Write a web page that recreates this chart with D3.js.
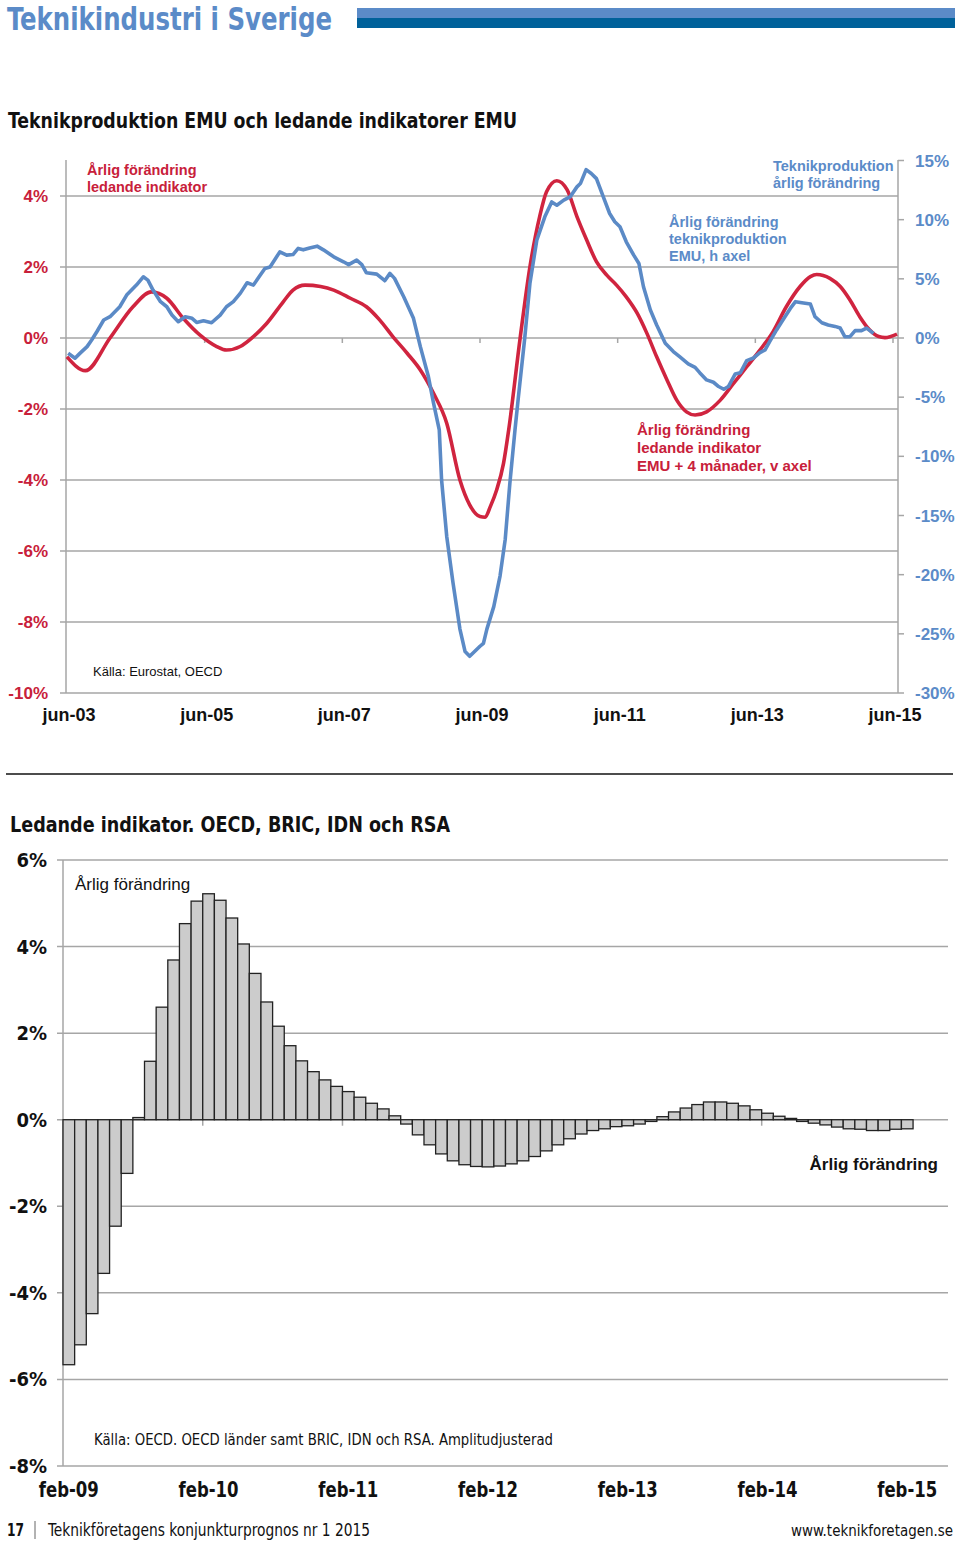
<!DOCTYPE html>
<html><head><meta charset="utf-8">
<script src="https://cdn.jsdelivr.net/npm/d3@7"></script>
<style>
body{margin:0;background:#fff;}
svg{display:block;}
.cond{font-family:"Liberation Sans Narrow","Arial Narrow","DejaVu Sans Condensed",sans-serif;}
.arial{font-family:"Liberation Sans",Arial,sans-serif;}
</style></head>
<body>
<svg id="c" width="960" height="1541"></svg>
<script>
// ---------- Chart 1 data (month offsets from jun-03) ----------
const redMonths = [0,3.2,7.5,11.5,14.7,17.4,20.3,23.2,26.1,27.8,30.2,32.5,34.8,37.7,39.4,41.5,44.2,46.5,49.4,52.2,54.5,56.8,59.3,61.6,63.9,66.2,68.5,70.2,72.0,72.9,73.8,74.9,76.1,77.0,79.0,80.7,82.4,83.6,85.4,87.2,88.9,90.6,92.3,94.1,95.8,97.5,99.4,101.1,102.8,104.6,106.3,108.0,109.5,111.5,113.9,116.2,118.5,120.8,123.1,125.4,127.8,129.6,130.7,133.0,134.8,136.5,138.2,139.9,141.5,142.6,144.7];
const redValues = [-0.53,-0.92,0.0,0.88,1.30,1.12,0.55,0.08,-0.24,-0.34,-0.24,0.04,0.41,1.02,1.35,1.49,1.45,1.35,1.12,0.88,0.51,0.04,-0.43,-0.90,-1.56,-2.40,-4.0,-4.70,-5.03,-5.05,-4.75,-4.28,-3.53,-2.59,0.0,2.0,3.42,4.12,4.43,4.17,3.42,2.76,2.15,1.77,1.49,1.16,0.70,0.13,-0.53,-1.18,-1.75,-2.08,-2.17,-2.08,-1.75,-1.28,-0.81,-0.34,0.18,0.88,1.45,1.73,1.79,1.68,1.45,1.07,0.60,0.23,0.04,0.01,0.11];
const blueMonths = [0.2,1.4,2.2,3.5,4.3,5.2,6.4,7.5,9.2,10.4,12.1,13.3,14.1,15.0,16.3,17.4,18.3,19.4,20.6,21.8,22.6,23.8,25.2,26.7,27.8,29.0,30.2,31.4,32.5,33.7,34.5,35.4,37.1,38.3,39.4,40.3,41.2,42.3,43.6,44.7,46.5,48.2,49.1,50.5,51.4,52.2,54.0,55.4,56.3,57.1,58.7,60.4,61.6,63.0,63.9,64.9,65.3,66.2,67.3,68.5,69.4,70.2,72.0,72.6,73.2,74.4,75.5,76.4,77.2,78.1,78.7,79.8,80.7,81.9,83.3,84.5,85.4,86.6,87.7,88.9,89.5,90.5,91.4,92.3,93.5,94.6,95.5,96.4,97.5,98.8,99.7,100.5,101.7,102.8,104.3,105.7,106.8,108.3,109.5,110.3,111.5,112.7,113.6,114.5,115.3,116.5,117.4,118.5,119.7,120.8,121.7,122.5,123.7,124.8,126.1,127.0,128.1,129.6,130.4,131.6,132.7,133.9,134.8,135.6,136.5,137.4,138.5,139.4,140.6];
const blueValues = [-1.29,-1.71,-1.32,-0.73,-0.17,0.53,1.52,1.80,2.64,3.63,4.47,5.17,4.89,4.05,3.07,2.64,1.94,1.38,1.80,1.66,1.32,1.46,1.29,1.94,2.64,3.07,3.77,4.67,4.47,5.32,5.88,6.0,7.28,7.0,7.05,7.57,7.45,7.60,7.76,7.45,6.86,6.44,6.20,6.58,6.20,5.51,5.40,4.84,5.46,5.04,3.49,1.66,-0.73,-3.26,-5.51,-7.76,-11.98,-16.77,-20.7,-24.6,-26.5,-26.9,-26.05,-25.8,-24.6,-22.7,-20.1,-17.0,-12.3,-7.76,-4.95,0.0,4.6,8.27,10.24,11.5,11.22,11.65,11.92,12.77,13.05,14.23,13.9,13.47,11.92,10.52,9.82,9.40,8.13,7.0,6.30,4.33,2.36,1.10,-0.45,-1.15,-1.58,-2.19,-2.48,-2.93,-3.54,-3.74,-4.10,-4.33,-4.10,-3.04,-2.93,-1.91,-1.69,-1.24,-1.01,-0.31,0.68,1.52,2.50,3.07,2.98,2.87,1.80,1.29,1.10,0.98,0.84,0.11,0.11,0.62,0.62,0.84,0.39];
const xTickMonths = [0,24,48,72,96,120,144];
const xTickLabels = ["jun-03","jun-05","jun-07","jun-09","jun-11","jun-13","jun-15"];
const leftTicks = [-10,-8,-6,-4,-2,0,2,4];
const rightTicks = [-30,-25,-20,-15,-10,-5,0,5,10,15];

// ---------- Chart 2 data ----------
const barValues = [-5.66,-5.2,-4.48,-3.55,-2.46,-1.24,0.05,1.35,2.6,3.69,4.53,5.05,5.22,5.07,4.66,4.06,3.38,2.72,2.16,1.71,1.36,1.11,0.92,0.77,0.65,0.52,0.38,0.25,0.09,-0.1,-0.35,-0.58,-0.79,-0.95,-1.04,-1.08,-1.09,-1.07,-1.02,-0.95,-0.85,-0.72,-0.58,-0.44,-0.33,-0.25,-0.21,-0.16,-0.14,-0.1,-0.04,0.07,0.18,0.27,0.35,0.41,0.41,0.38,0.32,0.23,0.15,0.08,0.03,-0.04,-0.08,-0.12,-0.17,-0.21,-0.22,-0.25,-0.25,-0.22,-0.21];
const monthNames = ["jan","feb","mar","apr","maj","jun","jul","aug","sep","okt","nov","dec"];
const barCategories = d3.range(76).map(i => { const m = (1 + i) % 12, y = 9 + Math.floor((1 + i) / 12); return monthNames[m] + "-" + String(y).padStart(2,"0"); });
const barTickLabels = ["feb-09","feb-10","feb-11","feb-12","feb-13","feb-14","feb-15"];
const barYTicks = [-8,-6,-4,-2,0,2,4,6];

const RED = "#d0243f", REDTXT = "#c8203a", BLUE = "#5b8ac6", BLUETXT = "#5b8bc8", GRID = "#a6a6a6";
const svg = d3.select("#c");

function fit(sel, len){ return sel.attr("textLength",len).attr("lengthAdjust","spacingAndGlyphs"); }

// ---------- Header ----------
fit(svg.append("text").attr("class","cond").attr("x",7).attr("y",30).attr("font-size",32).attr("font-weight","bold").attr("fill",BLUETXT).text("Teknikindustri i Sverige"),325);
svg.append("rect").attr("x",357).attr("y",8).attr("width",598).attr("height",10).attr("fill","#5b8bc8");
svg.append("rect").attr("x",357).attr("y",18).attr("width",598).attr("height",10).attr("fill","#00619a");

// ---------- Chart 1 ----------
fit(svg.append("text").attr("class","cond").attr("x",8).attr("y",128).attr("font-size",22).attr("font-weight","bold").attr("fill","#111").text("Teknikproduktion EMU och ledande indikatorer EMU"),509);

const x1 = d3.scaleLinear().domain([0,144]).range([67,893]);
const yL = d3.scaleLinear().domain([-10,5]).range([693,160.5]);
const yR = d3.scaleLinear().domain([-30,15]).range([693,160.5]);
const PL = 66, PR = 898;
const g1 = svg.append("g");

g1.selectAll("line.grid").data(leftTicks).join("line")
  .attr("x1",60).attr("x2",PR).attr("y1",d=>yL(d)).attr("y2",d=>yL(d))
  .attr("stroke",GRID).attr("stroke-width",1.5);
g1.append("line").attr("x1",PL).attr("x2",PL).attr("y1",160).attr("y2",693).attr("stroke",GRID).attr("stroke-width",1.5);
g1.append("line").attr("x1",PR).attr("x2",PR).attr("y1",160).attr("y2",693).attr("stroke",GRID).attr("stroke-width",1.5);
g1.selectAll("line.rt").data(rightTicks).join("line")
  .attr("x1",PR).attr("x2",PR+6).attr("y1",d=>yR(d)).attr("y2",d=>yR(d)).attr("stroke",GRID).attr("stroke-width",1.5);
g1.selectAll("line.xt").data(xTickMonths.slice(1)).join("line")
  .attr("x1",d=>x1(d)).attr("x2",d=>x1(d)).attr("y1",yL(0)).attr("y2",yL(0)+5).attr("stroke",GRID).attr("stroke-width",1.5);

g1.selectAll("text.lt").data(leftTicks).join("text").attr("class","arial")
  .attr("x",48).attr("y",d=>yL(d)+6).attr("text-anchor","end").attr("font-size",17).attr("font-weight","bold").attr("fill",REDTXT)
  .text(d=>d+"%");
g1.selectAll("text.rtl").data(rightTicks).join("text").attr("class","arial")
  .attr("x",915).attr("y",d=>yR(d)+6).attr("font-size",17).attr("font-weight","bold").attr("fill",BLUETXT)
  .text(d=>d+"%");
g1.selectAll("text.xl").data(xTickMonths).join("text").attr("class","arial")
  .attr("x",d=>x1(d)+2).attr("y",721).attr("text-anchor","middle").attr("font-size",18).attr("font-weight","bold").attr("fill","#111")
  .text((d,i)=>xTickLabels[i]);

const blueLine = d3.line().x((d,i)=>x1(blueMonths[i])).y(d=>yR(d)).curve(d3.curveLinear);
const redLine = d3.line().x((d,i)=>x1(redMonths[i])).y(d=>yL(d)).curve(d3.curveMonotoneX);
g1.append("path").attr("d",redLine(redValues)).attr("fill","none").attr("stroke",RED).attr("stroke-width",3.6).attr("stroke-linejoin","round");
g1.append("path").attr("d",blueLine(blueValues)).attr("fill","none").attr("stroke",BLUE).attr("stroke-width",3.6).attr("stroke-linejoin","round");

function multi(g, x, y, lines, size, color, weight, cls, lh){
  const t = g.append("text").attr("class",cls).attr("x",x).attr("y",y).attr("font-size",size).attr("font-weight",weight).attr("fill",color);
  lines.forEach((l,i)=>t.append("tspan").attr("x",x).attr("dy",i?lh:0).text(l));
}
multi(g1,87,175,["Årlig förändring","ledande indikator"],14.5,REDTXT,"bold","arial",17);
multi(g1,773,171,["Teknikproduktion","årlig förändring"],14.5,BLUETXT,"bold","arial",17);
multi(g1,669,227,["Årlig förändring","teknikproduktion","EMU, h axel"],14.5,BLUETXT,"bold","arial",17);
multi(g1,637,435,["Årlig förändring","ledande indikator","EMU + 4 månader, v axel"],15,REDTXT,"bold","arial",18);
g1.append("text").attr("class","arial").attr("x",93).attr("y",676).attr("font-size",13).attr("fill","#111").text("Källa: Eurostat, OECD");

svg.append("line").attr("x1",6).attr("x2",953).attr("y1",774).attr("y2",774).attr("stroke","#111").attr("stroke-width",1.3);

// ---------- Chart 2 ----------
fit(svg.append("text").attr("class","cond").attr("x",10).attr("y",832).attr("font-size",22).attr("font-weight","bold").attr("fill","#111").text("Ledande indikator. OECD, BRIC, IDN och RSA"),440);

const xb = d3.scaleBand().domain(barCategories).range([63,948]).padding(0);
const y2 = d3.scaleLinear().domain([-8,6]).range([1466,860]);
const g2 = svg.append("g");
g2.selectAll("line.g").data(barYTicks).join("line")
  .attr("x1",57).attr("x2",948).attr("y1",d=>y2(d)).attr("y2",d=>y2(d)).attr("stroke",GRID).attr("stroke-width",1.5);
g2.append("line").attr("x1",63).attr("x2",63).attr("y1",860).attr("y2",1466).attr("stroke",GRID).attr("stroke-width",1.5);
g2.selectAll("line.t").data(barTickLabels.slice(1)).join("line")
  .attr("x1",d=>xb(d)).attr("x2",d=>xb(d)).attr("y1",y2(0)).attr("y2",y2(0)+6).attr("stroke",GRID).attr("stroke-width",1.5);

g2.selectAll("rect.b").data(barValues).join("rect")
  .attr("x",(d,i)=>xb(barCategories[i])).attr("width",xb.bandwidth())
  .attr("y",d=>y2(Math.max(0,d))).attr("height",d=>Math.abs(y2(d)-y2(0)))
  .attr("fill","#cccccc").attr("stroke","#222").attr("stroke-width",1.3);

g2.selectAll("text.yl").data(barYTicks).join("text").attr("class","cond")
  .attr("x",47).attr("y",d=>y2(d)+7).attr("text-anchor","end").attr("font-size",20).attr("font-weight","bold").attr("fill","#111")
  .text(d=>d+"%");
fit(g2.selectAll("text.xl").data(barTickLabels).join("text").attr("class","cond")
  .attr("x",d=>xb(d)+xb.bandwidth()/2-30).attr("y",1497).attr("font-size",21).attr("font-weight","bold").attr("fill","#111")
  .text(d=>d),60);
g2.append("text").attr("class","arial").attr("x",75).attr("y",890).attr("font-size",17).attr("fill","#111").text("Årlig förändring");
g2.append("text").attr("class","arial").attr("x",938).attr("y",1170).attr("text-anchor","end").attr("font-size",17).attr("font-weight","bold").attr("fill","#111").text("Årlig förändring");
fit(g2.append("text").attr("class","cond").attr("x",94).attr("y",1445).attr("font-size",15).attr("fill","#111").text("Källa: OECD. OECD länder samt BRIC, IDN och RSA. Amplitudjusterad"),459);

// ---------- Footer ----------
fit(svg.append("text").attr("class","cond").attr("x",7).attr("y",1536).attr("font-size",17).attr("font-weight","bold").attr("fill","#111").text("17"),17);
svg.append("line").attr("x1",35).attr("x2",35).attr("y1",1521).attr("y2",1539).attr("stroke","#666").attr("stroke-width",1);
fit(svg.append("text").attr("class","cond").attr("x",48).attr("y",1536).attr("font-size",17).attr("fill","#111").text("Teknikföretagens konjunkturprognos nr 1 2015"),322);
fit(svg.append("text").attr("class","cond").attr("x",953).attr("y",1536).attr("text-anchor","end").attr("font-size",15.5).attr("fill","#111").text("www.teknikforetagen.se"),162);
</script>
</body></html>
